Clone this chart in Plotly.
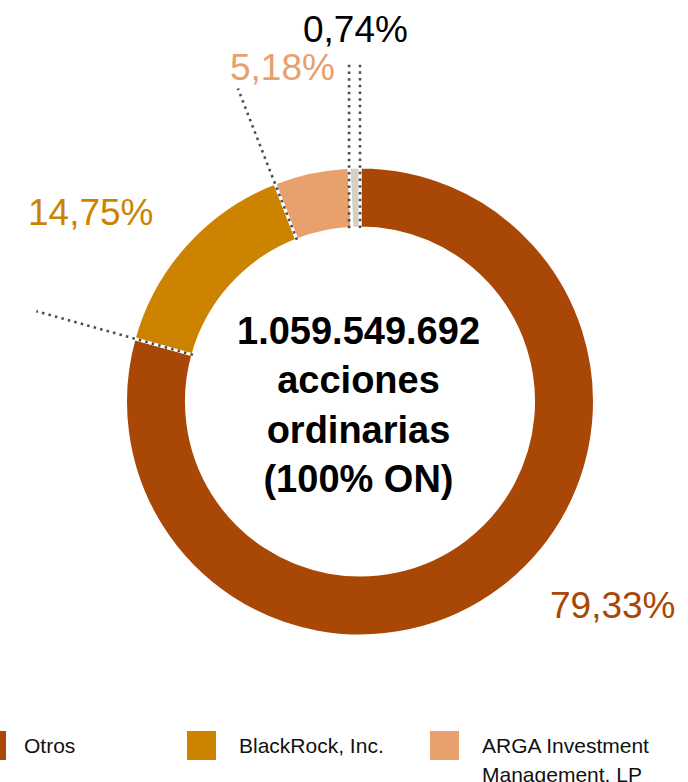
import math
import plotly.graph_objects as go

# Shareholder structure
labels = ["Otros", "BlackRock, Inc.", "ARGA Investment Management, LP", "Acciones en tesorería"]
values = [79.33, 14.75, 5.18, 0.74]
colors = ["#A94806", "#CC8400", "#E8A06D", "#D4D0C4"]
label_colors = ["#A94806", "#CC8400", "#E8A06D", "#000000"]
center_lines = ["1.059.549.692", "acciones", "ordinarias", "(100% ON)"]
legend_items = ["Otros", "BlackRock, Inc.", ["ARGA Investment", "Management, LP"]]

W, H = 688, 782
CX, CY = 360.0, 401.5
R_OUT = 234.5
HOLE = 0.74
R_IN = R_OUT * HOLE
R_LEAD = 336.0
FONT = "Liberation Sans, Arial, sans-serif"


def px_to_paper(x, y):
    return x / W, 1 - y / H


def ring_point(frac, r):
    a = 2 * math.pi * frac
    return CX + r * math.sin(a), CY - r * math.cos(a)


fig = go.Figure(
    go.Pie(
        labels=labels,
        values=values,
        marker=dict(colors=colors, line=dict(color="white", width=3)),
        hole=HOLE,
        sort=False,
        direction="clockwise",
        rotation=0,
        textinfo="none",
        hoverinfo="label+percent",
        showlegend=False,
        domain=dict(
            x=[(CX - R_OUT) / W, (CX + R_OUT) / W],
            y=[1 - (CY + R_OUT) / H, 1 - (CY - R_OUT) / H],
        ),
    )
)

# cumulative slice boundaries
cum = []
s = 0.0
total = sum(values)
for v in values:
    s += v
    cum.append(s / total)

shapes = []
dot = dict(color="#4D4D4D", width=2.6, dash="2.5px,4.2px")

# radial leader lines for the BlackRock slice edges
for f in (cum[0], cum[1]):
    x0, y0 = px_to_paper(*ring_point(f, R_IN))
    x1, y1 = px_to_paper(*ring_point(f, R_LEAD))
    shapes.append(dict(type="line", xref="paper", yref="paper",
                       x0=x0, y0=y0, x1=x1, y1=y1, line=dot))

# vertical leader lines for the thin last slice
for f in (cum[2], cum[3]):
    xo, _ = ring_point(f, R_OUT)
    _, yi = ring_point(f, R_IN)
    x0, y0 = px_to_paper(xo, yi)
    x1, y1 = px_to_paper(xo, 62)
    shapes.append(dict(type="line", xref="paper", yref="paper",
                       x0=x0, y0=y0, x1=x1, y1=y1, line=dot))

# legend swatches
swatch_x = [-23, 187, 430]
for xs, c in zip(swatch_x, colors[:3]):
    x0, y0 = px_to_paper(xs, 760)
    x1, y1 = px_to_paper(xs + 29, 731)
    shapes.append(dict(type="rect", xref="paper", yref="paper",
                       x0=x0, y0=y0, x1=x1, y1=y1,
                       fillcolor=c, line=dict(width=0)))

annotations = []

# percentage labels
label_pos = [(613, 605), (91, 213), (282, 68), (355, 30)]
for v, c, (lx, ly) in zip(values, label_colors, label_pos):
    x, y = px_to_paper(lx, ly)
    annotations.append(dict(
        x=x, y=y, xref="paper", yref="paper", showarrow=False,
        text=f"{v:.2f}%".replace(".", ","),
        font=dict(family=FONT, size=37, color=c),
        xanchor="center", yanchor="middle",
    ))

# centre text
x, y = px_to_paper(358, 405.5)
annotations.append(dict(
    x=x, y=y, xref="paper", yref="paper", showarrow=False,
    text="<br>".join(center_lines),
    font=dict(family=FONT, size=38, color="#000000", weight="bold"),
    xanchor="center", yanchor="middle",
))

# legend text
text_x = [22, 237, 480]
for tx, item in zip(text_x, legend_items):
    lines = item if isinstance(item, list) else [item]
    for i, line in enumerate(lines):
        x, y = px_to_paper(tx, 745.5 + 29 * i)
        annotations.append(dict(
            x=x, y=y, xref="paper", yref="paper", showarrow=False,
            text=line,
            font=dict(family=FONT, size=21, color="#111111"),
            xanchor="left", yanchor="middle",
        ))

fig.update_layout(
    width=W, height=H,
    margin=dict(l=0, r=0, t=0, b=0),
    paper_bgcolor="white",
    plot_bgcolor="white",
    shapes=shapes,
    annotations=annotations,
)

fig.write_html("out.html")
